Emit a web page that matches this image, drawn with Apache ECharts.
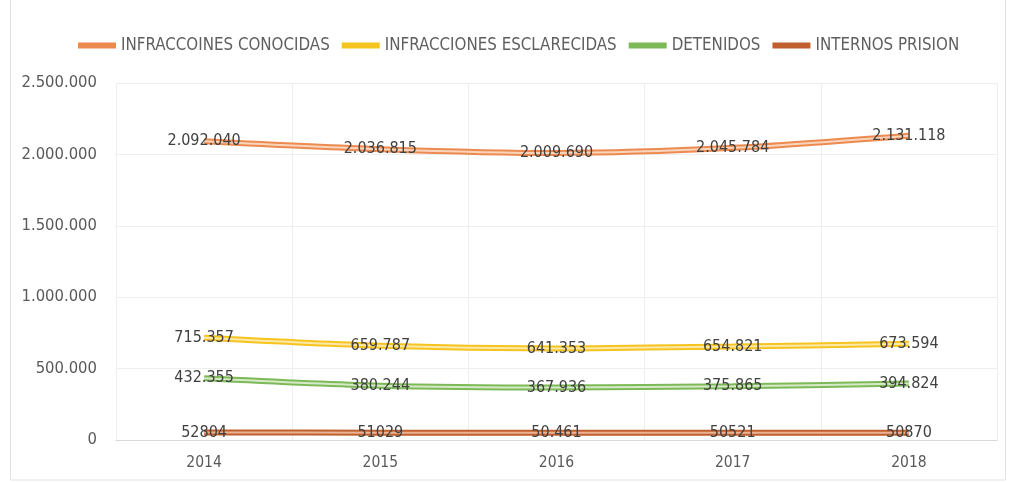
<!DOCTYPE html>
<html>
<head>
<meta charset="utf-8">
<script src="https://cdn.jsdelivr.net/npm/echarts@6/dist/echarts.min.js"></script>
<style>
html,body{margin:0;padding:0;background:#fff;}
#chart{width:1009px;height:483px;}
</style>
</head>
<body>
<div id="chart"></div>
<script>
const years = ['2014', '2015', '2016', '2017', '2018'];
const seriesNames = ['INFRACCOINES CONOCIDAS', 'INFRACCIONES ESCLARECIDAS', 'DETENIDOS', 'INTERNOS PRISION'];
const conocidas = [2092040, 2036815, 2009690, 2045784, 2131118];
const esclarecidas = [715357, 659787, 641353, 654821, 673594];
const detenidos = [432355, 380244, 367936, 375865, 394824];
const internos = [52804, 51029, 50461, 50521, 50870];
const conocidasLabels = ['2.092.040', '2.036.815', '2.009.690', '2.045.784', '2.131.118'];
const esclarecidasLabels = ['715.357', '659.787', '641.353', '654.821', '673.594'];
const detenidosLabels = ['432.355', '380.244', '367.936', '375.865', '394.824'];
const internosLabels = ['52804', '51029', '50.461', '50521', '50870'];
const yTicks = ['0', '500.000', '1.000.000', '1.500.000', '2.000.000', '2.500.000'];

const outerColors = ['#EC8A50', '#F6C420', '#7DB957', '#C0602F'];
const innerColors = ['#F9D5BC', '#FCE9A8', '#D6EAC8', '#EAB395'];
const allData = [conocidas, esclarecidas, detenidos, internos];
const allLabels = [conocidasLabels, esclarecidasLabels, detenidosLabels, internosLabels];
const FONT = 'DejaVu Sans Condensed, DejaVu Sans';

const series = [];
allData.forEach((d, i) => {
  series.push({
    name: seriesNames[i], type: 'line', data: d, smooth: 0.3,
    symbol: 'none', color: outerColors[i],
    lineStyle: { width: 6, color: outerColors[i] },
    emphasis: { disabled: true }, z: 2
  });
});
allData.forEach((d, i) => {
  series.push({
    name: 'inner' + i, type: 'line', data: d, smooth: 0.3,
    symbol: 'circle', symbolSize: 1,
    itemStyle: { color: innerColors[i] },
    lineStyle: { width: 2, color: innerColors[i] },
    emphasis: { disabled: true }, z: 3,
    label: {
      show: true, position: 'inside',
      formatter: p => allLabels[i][p.dataIndex],
      color: '#404040', fontSize: 16, fontFamily: FONT
    }
  });
});

const chart = echarts.init(document.getElementById('chart'), null, { renderer: 'canvas' });
chart.setOption({
  animation: false,
  backgroundColor: '#fff',
  legend: {
    data: seriesNames.map((n, i) => ({ name: n, itemStyle: { color: outerColors[i] } })),
    top: 32, left: 73,
    icon: 'rect', itemWidth: 38, itemHeight: 6, itemGap: 12,
    textStyle: { color: '#5f5f5f', fontSize: 16.8, fontFamily: FONT }
  },
  grid: { left: 116, right: 12, top: 83, bottom: 43, containLabel: false },
  xAxis: {
    type: 'category', data: years, boundaryGap: true,
    axisLine: { show: true, lineStyle: { color: '#d9d9d9', width: 1 } },
    axisTick: { show: false },
    splitLine: { show: true, lineStyle: { color: '#eeeeee', width: 1 } },
    axisLabel: { color: '#595959', fontSize: 15.5, margin: 15, fontFamily: FONT }
  },
  yAxis: {
    type: 'value', min: 0, max: 2500000, interval: 500000,
    axisLine: { show: false }, axisTick: { show: false },
    splitLine: { show: true, lineStyle: { color: '#eeeeee', width: 1 } },
    axisLabel: {
      color: '#595959', fontSize: 16.5, margin: 19, fontFamily: FONT,
      formatter: v => yTicks[Math.round(v / 500000)]
    }
  },
  graphic: [{
    type: 'rect', silent: true, z: -1,
    shape: { x: 10.5, y: -1, width: 995, height: 481 },
    style: { fill: 'none', stroke: '#e3e3e3', lineWidth: 1 }
  }],
  series: series
});
</script>
</body>
</html>
